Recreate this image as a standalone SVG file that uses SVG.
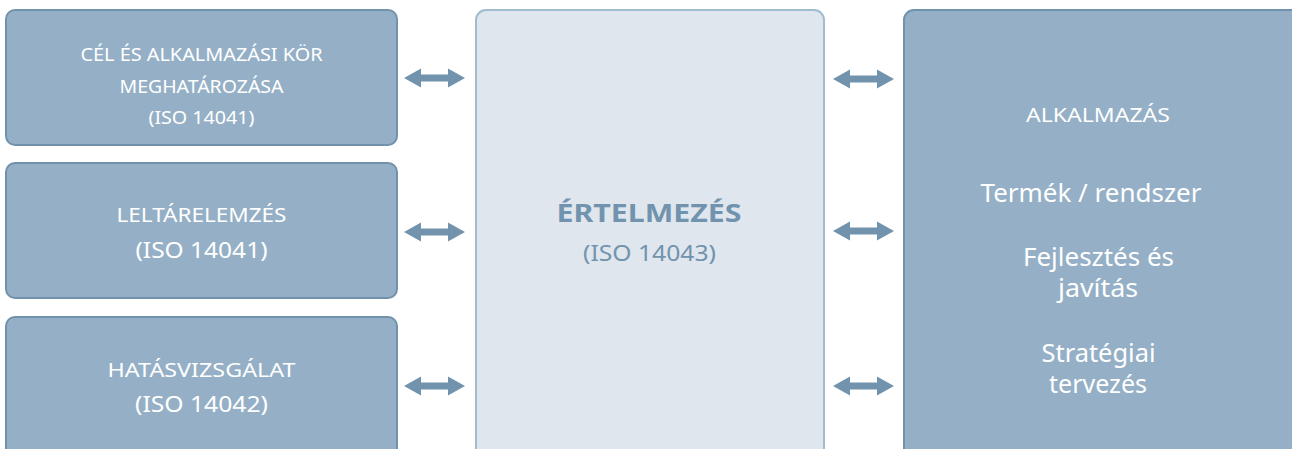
<svg xmlns="http://www.w3.org/2000/svg" width="1292" height="449" viewBox="0 0 1292 449">
  <style>
    .box { fill: #95b0c6; stroke: #7192ac; stroke-width: 2; }
    .core { fill: #dfe6ed; stroke: #a2bccf; stroke-width: 2; }
    .lbl { font-family: "Noto Sans", "DejaVu Sans", sans-serif; fill: #ffffff; text-anchor: middle; }
    .core-lbl { font-family: "Noto Sans", "DejaVu Sans", sans-serif; fill: #7293ad; text-anchor: middle; }
    .arrow { fill: #7293ad; }
  </style>
  <defs>
    <!-- double-headed block arrow, 61 px long, centred on the origin vertically -->
    <path id="dbl" d="M0,0 L17,-9.5 L17,-3.5 L44,-3.5 L44,-9.5 L61,0 L44,9.5 L44,3.5 L17,3.5 L17,9.5 Z"/>
  </defs>

  <rect width="1292" height="449" fill="#ffffff"/>

  <g id="goal-scope">
    <rect class="box" x="6" y="10" width="391" height="135" rx="9"/>
    <text class="lbl" x="201.5" y="61" font-size="17.5" textLength="242" lengthAdjust="spacingAndGlyphs">CÉL ÉS ALKALMAZÁSI KÖR</text>
    <text class="lbl" x="201.5" y="93" font-size="17.5" textLength="164" lengthAdjust="spacingAndGlyphs">MEGHATÁROZÁSA</text>
    <text class="lbl" x="201.5" y="124" font-size="17.5" textLength="106" lengthAdjust="spacingAndGlyphs">(ISO 14041)</text>
  </g>

  <g id="inventory">
    <rect class="box" x="6" y="163" width="391" height="135" rx="9"/>
    <text class="lbl" x="201.5" y="222" font-size="19" textLength="170" lengthAdjust="spacingAndGlyphs">LELTÁRELEMZÉS</text>
    <text class="lbl" x="201.5" y="258" font-size="21.5" textLength="132" lengthAdjust="spacingAndGlyphs">(ISO 14041)</text>
  </g>

  <g id="impact">
    <rect class="box" x="6" y="317" width="391" height="145" rx="9"/>
    <text class="lbl" x="201.5" y="377" font-size="19" textLength="188" lengthAdjust="spacingAndGlyphs">HATÁSVIZSGÁLAT</text>
    <text class="lbl" x="201.5" y="412" font-size="21.5" textLength="133" lengthAdjust="spacingAndGlyphs">(ISO 14042)</text>
  </g>

  <g id="interpretation">
    <rect class="core" x="476" y="10" width="348" height="452" rx="10"/>
    <text class="core-lbl" x="649" y="222" font-size="25" font-weight="bold" textLength="185" lengthAdjust="spacingAndGlyphs">ÉRTELMEZÉS</text>
    <text class="core-lbl" x="649.5" y="261" font-size="21.5" textLength="133" lengthAdjust="spacingAndGlyphs">(ISO 14043)</text>
  </g>

  <g id="application">
    <rect class="box" x="904" y="10" width="400" height="452" rx="10"/>
    <text class="lbl" x="1098" y="122" font-size="19" textLength="144" lengthAdjust="spacingAndGlyphs">ALKALMAZÁS</text>
    <text class="lbl" x="1091" y="202" font-size="25" textLength="221" lengthAdjust="spacingAndGlyphs">Termék / rendszer</text>
    <text class="lbl" x="1098.5" y="266" font-size="25" textLength="151" lengthAdjust="spacingAndGlyphs">Fejlesztés és</text>
    <text class="lbl" x="1098" y="297" font-size="25" textLength="80" lengthAdjust="spacingAndGlyphs">javítás</text>
    <text class="lbl" x="1098.5" y="362" font-size="25" textLength="114" lengthAdjust="spacingAndGlyphs">Stratégiai</text>
    <text class="lbl" x="1098" y="393" font-size="25" textLength="98" lengthAdjust="spacingAndGlyphs">tervezés</text>
  </g>

  <g id="connectors" class="arrow">
    <use href="#dbl" x="404" y="78"/>
    <use href="#dbl" x="404" y="232"/>
    <use href="#dbl" x="404" y="386"/>
    <use href="#dbl" x="833" y="79"/>
    <use href="#dbl" x="833" y="231"/>
    <use href="#dbl" x="833" y="386"/>
  </g>
</svg>
